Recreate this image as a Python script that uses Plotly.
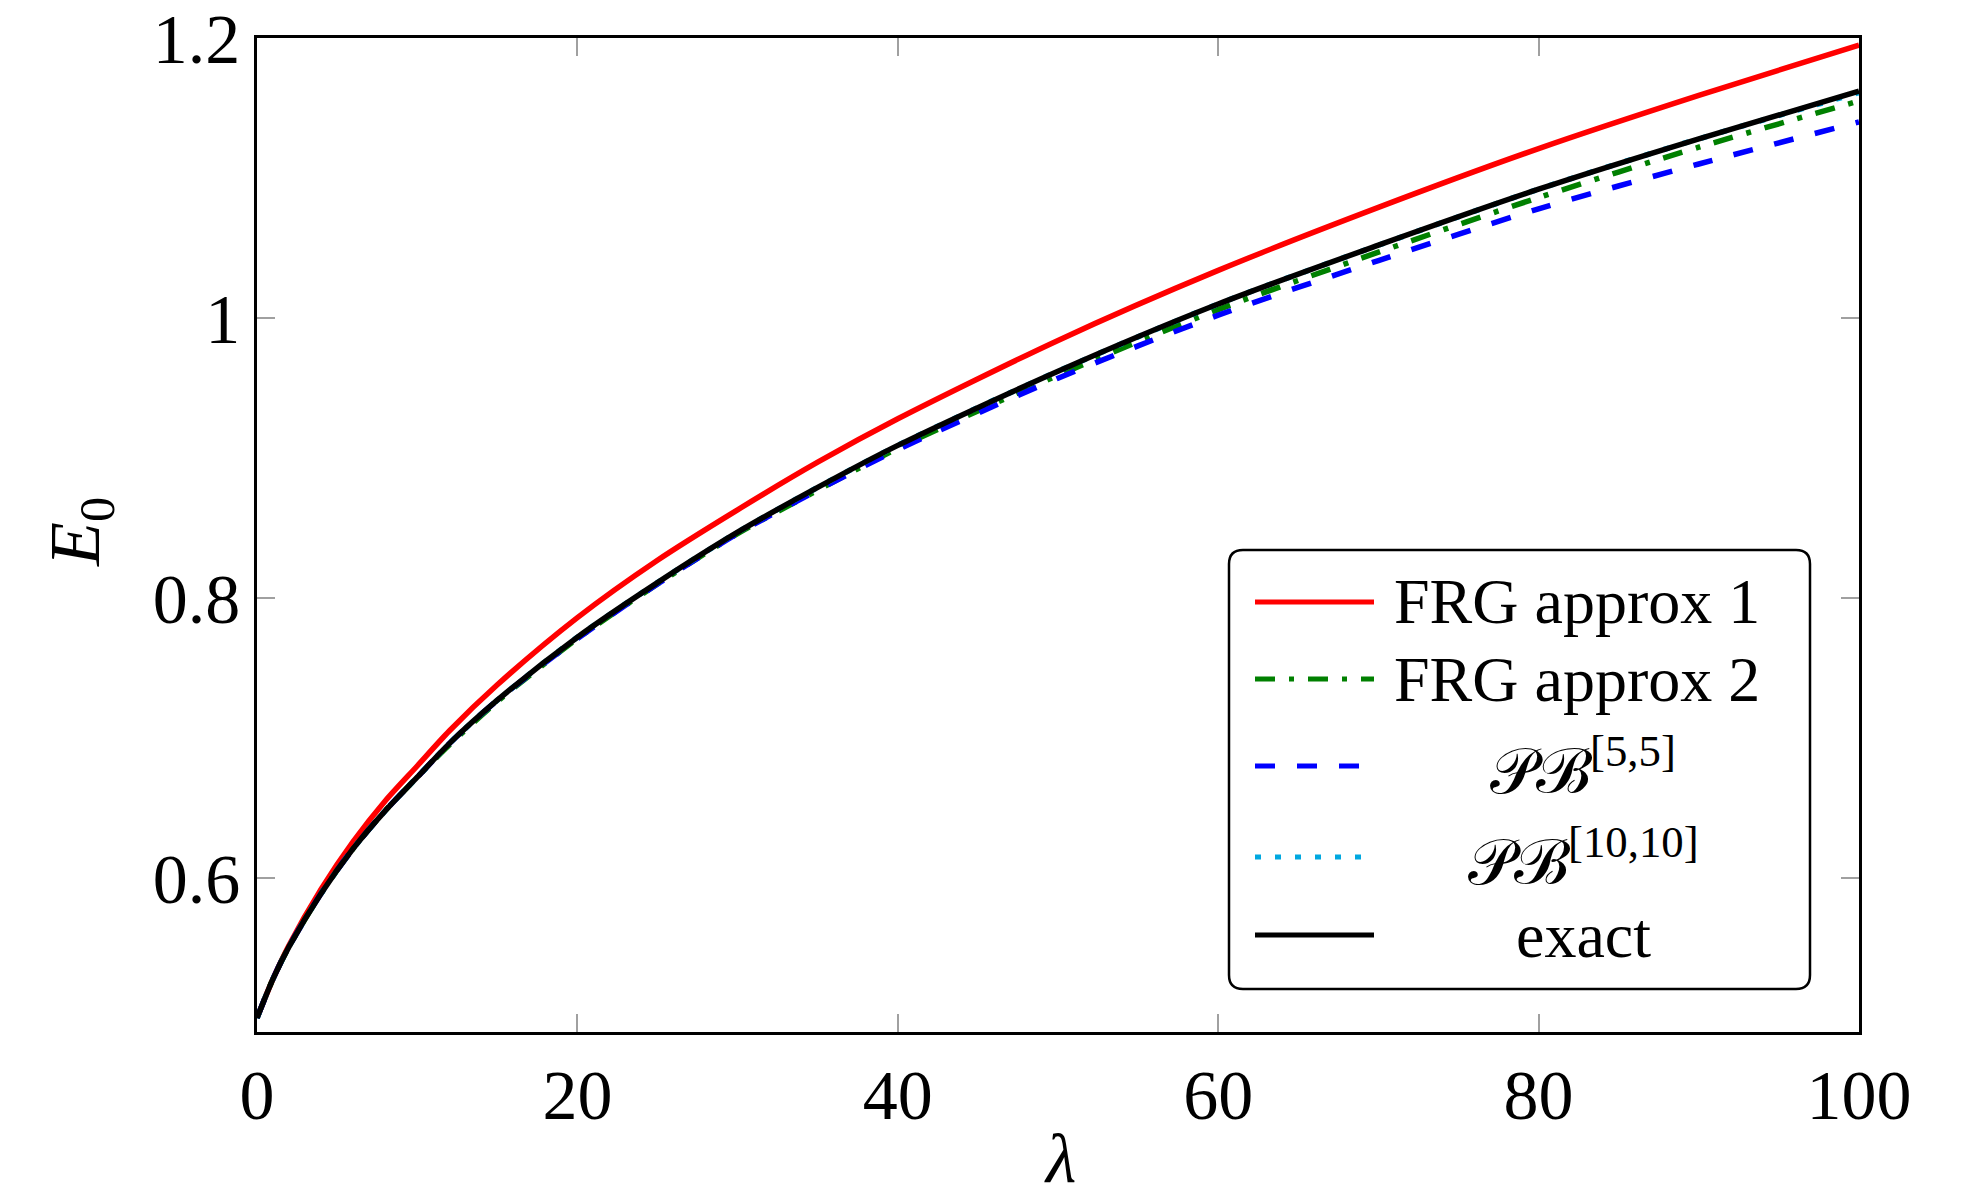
import plotly.graph_objects as go

# ---- data ----
lam = [0, 1, 2, 4, 6, 8, 10, 12, 15, 20, 25, 30, 35, 40, 50, 60, 70, 80, 90, 100]
frg1 = [0.500, 0.528, 0.552, 0.592, 0.626, 0.655, 0.680, 0.705, 0.738, 0.786, 0.827, 0.863,
        0.897, 0.928, 0.984, 1.034, 1.079, 1.121, 1.159, 1.195]
frg2 = [0.500, 0.528, 0.551, 0.589, 0.621, 0.648, 0.672, 0.695, 0.726, 0.771, 0.810, 0.846,
        0.877, 0.907, 0.959, 1.006, 1.047, 1.086, 1.122, 1.155]
pb55 = [0.500, 0.528, 0.551, 0.589, 0.621, 0.648, 0.672, 0.696, 0.727, 0.771, 0.810, 0.846,
        0.877, 0.906, 0.957, 1.002, 1.041, 1.078, 1.110, 1.140]
pb1010 = [0.500, 0.528, 0.551, 0.589, 0.621, 0.648, 0.672, 0.696, 0.727, 0.772, 0.811, 0.847,
          0.879, 0.909, 0.962, 1.010, 1.052, 1.092, 1.128, 1.161]
exact = [0.500, 0.528, 0.551, 0.589, 0.621, 0.648, 0.672, 0.696, 0.727, 0.772, 0.811, 0.847,
         0.879, 0.909, 0.962, 1.010, 1.052, 1.092, 1.128, 1.162]

x_ticks = [0, 20, 40, 60, 80, 100]
y_ticks = [0.6, 0.8, 1.0, 1.2]
y_ticktext = ["0.6", "0.8", "1", "1.2"]

names = ["FRG approx 1", "FRG approx 2", "𝒫ℬ<sup>[5,5]</sup>", "𝒫ℬ<sup>[10,10]</sup>", "exact"]
series = [frg1, frg2, pb55, pb1010, exact]
colors = ["#ff0000", "#008000", "#0000ff", "#00a8e0", "#000000"]
dashes = ["solid", "20px,14px,5px,14px", "20px,22px", "6px,14px", "solid"]

W, H = 1968, 1195
OFF = 8  # page body margin
# plot area in page pixels
L, R, T, B = 257, 1859, 38, 1032
FONT = "Liberation Serif"

fig = go.Figure()
for ys, nm, c, d in zip(series, names, colors, dashes):
    fig.add_trace(go.Scatter(x=lam, y=ys, mode="lines", name=nm,
                             line=dict(color=c, width=5.5, dash=d, shape="spline", smoothing=0.8),
                             showlegend=False))

def px2x(px):
    return (px - L) / (R - L)

def py2y(py):
    return (B - py) / (B - T)

# custom legend (box + samples + labels)
bx0, bx1, by0, by1 = 1229, 1810, 550, 989
rx, ry = 14 / (R - L), 14 / (B - T)
x0, x1 = px2x(bx0), px2x(bx1)
y0, y1 = py2y(by1), py2y(by0)
path = (f"M{x0+rx},{y0} L{x1-rx},{y0} Q{x1},{y0} {x1},{y0+ry} L{x1},{y1-ry} Q{x1},{y1} {x1-rx},{y1} "
        f"L{x0+rx},{y1} Q{x0},{y1} {x0},{y1-ry} L{x0},{y0+ry} Q{x0},{y0} {x0+rx},{y0} Z")
shapes = [dict(type="path", xref="paper", yref="paper", path=path,
               line=dict(color="black", width=2.5), fillcolor="white", layer="above")]
annotations = []
row_y = [602, 679, 766, 857, 935]
for i, (nm, c, d) in enumerate(zip(names, colors, dashes)):
    yy = py2y(row_y[i])
    shapes.append(dict(type="line", xref="paper", yref="paper", x0=px2x(1255), x1=px2x(1374),
                       y0=yy, y1=yy, line=dict(color=c, width=5, dash=d), layer="above"))
    if i < 2:
        annotations.append(dict(xref="paper", yref="paper", x=px2x(1392), y=yy, text=nm,
                                showarrow=False, xanchor="left", yanchor="middle",
                                font=dict(family=FONT, size=64, color="black")))
    else:
        annotations.append(dict(xref="paper", yref="paper", x=px2x(1583), y=yy, text=nm,
                                showarrow=False, xanchor="center", yanchor="middle",
                                font=dict(family=FONT, size=64, color="black")))

# axis titles
annotations.append(dict(xref="paper", yref="paper", x=px2x(1060), y=py2y(1158), text="<i>λ</i>",
                        showarrow=False, xanchor="center", yanchor="middle",
                        font=dict(family=FONT, size=70, color="black")))
annotations.append(dict(xref="paper", yref="paper", x=px2x(80), y=py2y(532), text="<i>E</i><sub>0</sub>",
                        showarrow=False, xanchor="center", yanchor="middle", textangle=-90,
                        font=dict(family=FONT, size=72, color="black")))

axis_common = dict(showline=True, linecolor="black", linewidth=2.5, mirror="allticks",
                   ticks="inside", ticklen=18, tickwidth=2, tickcolor="#a0a0a0",
                   showgrid=False, zeroline=False, automargin=False, ticklabeloverflow="allow",
                   tickfont=dict(family=FONT, size=70, color="black"))

fig.update_layout(
    width=W, height=H,
    margin=dict(l=L - OFF, r=W + OFF - R, t=T - OFF, b=H + OFF - B, autoexpand=False),
    paper_bgcolor="white", plot_bgcolor="white",
    xaxis=dict(range=[0, 100], tickvals=x_ticks, ticktext=[str(v) for v in x_ticks], **axis_common),
    yaxis=dict(range=[0.49, 1.2], tickvals=y_ticks, ticktext=y_ticktext, **axis_common),
    shapes=shapes,
    annotations=annotations,
)

fig.write_html("out.html")
